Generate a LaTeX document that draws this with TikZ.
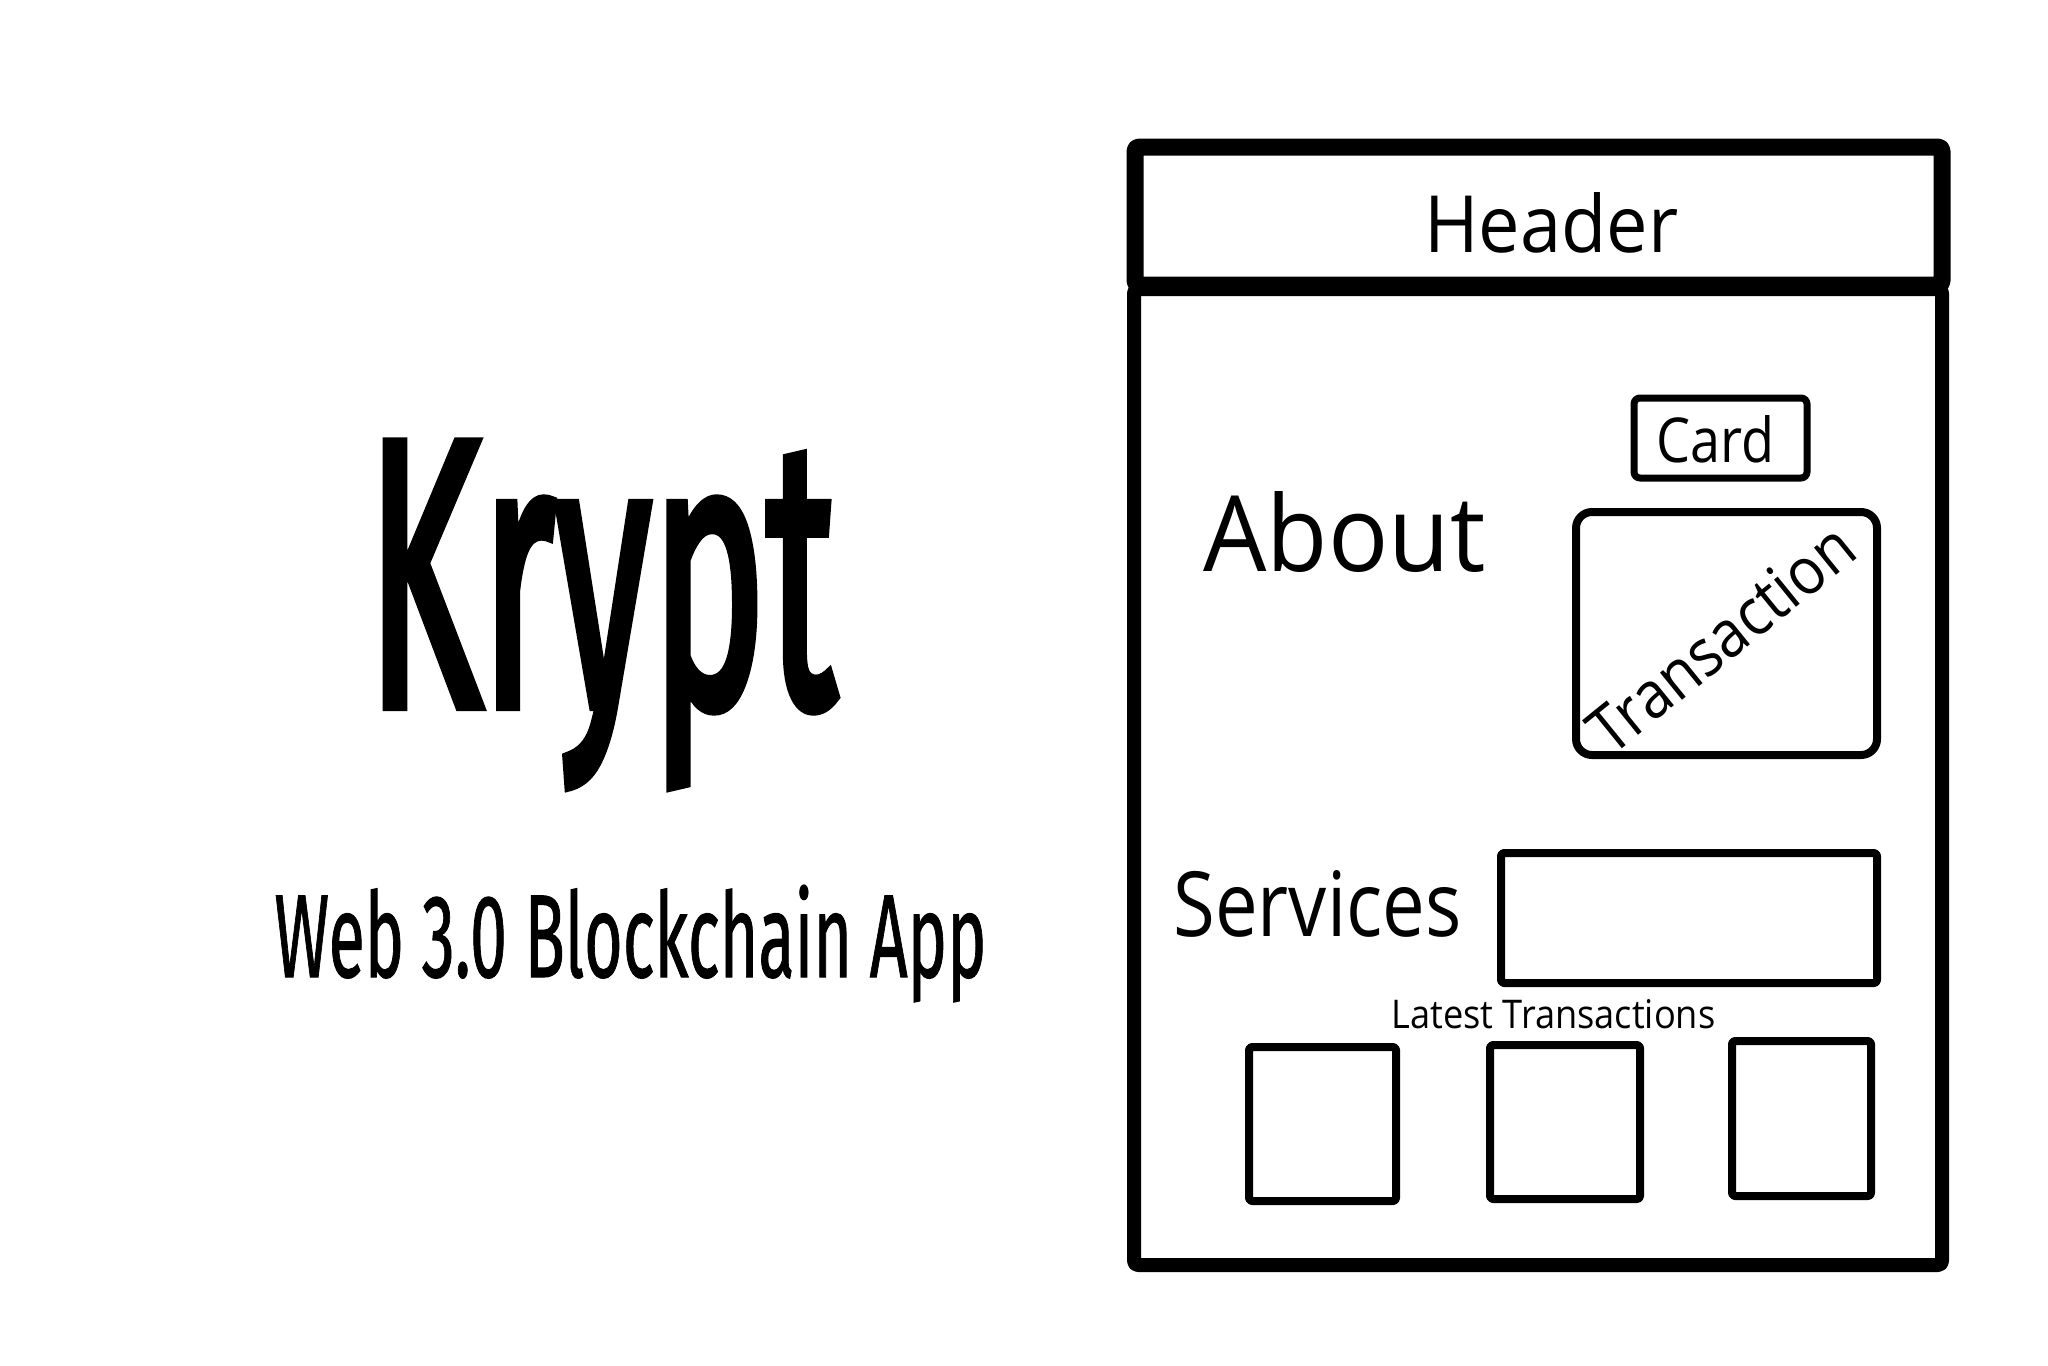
\documentclass[tikz,border=0pt]{standalone}
\usepackage{fontspec}
\usepackage{graphicx}
\newfontfamily\uifont{Open Sans}
\newfontfamily\handfont{Fira Sans}[FakeBold=3.2]
\newfontfamily\handfontlight{Fira Sans}[FakeBold=1.0]
\newcommand{\fitlabel}[3]{\resizebox{#1}{#2}{#3}}
\tikzset{
  frame/.style={draw=black, line width=#1, line join=round, rounded corners=2pt},
  uibox/.style={draw=black, line width=4pt, line join=round, rounded corners=1.5pt},
  lbl/.style={inner sep=0pt, anchor=base west},
}
\begin{document}
\begin{tikzpicture}[x=0.5pt,y=-0.5pt]
\useasboundingbox[fill=white] (0,0) rectangle (2048,1365);
% title
\node[lbl] (krypt) at (366,705) {\fitlabel{235pt}{130.5pt}{\handfont Krypt}};
\node[lbl] (subtitle) at (274,977) {\fitlabel{356pt}{46pt}{\handfontlight Web 3.0 Blockchain App}};
% page frame
\draw[frame=7pt] (1134,289) rectangle (1942,1265);
\draw[frame=8.5pt] (1135,147) rectangle (1942,285);
\node[lbl] (header) at (1424,252) {\fitlabel{127pt}{30pt}{\uifont Header}};
% about
\node[lbl] (about) at (1203,571) {\fitlabel{141pt}{40pt}{\uifont About}};
\draw[uibox, line width=3.5pt, rounded corners=3pt] (1634,398) rectangle (1807,478);
\node[lbl] (card) at (1656,462) {\fitlabel{59pt}{23.5pt}{\uifont Card}};
\draw[uibox, rounded corners=8pt] (1576,512) rectangle (1877,755);
\node[inner sep=0pt, rotate=39] (transaction) at (1721,638) {\fitlabel{160pt}{24pt}{\uifont Transaction}};
% services
\node[lbl] (services) at (1173,936) {\fitlabel{144pt}{33pt}{\uifont Services}};
\draw[uibox] (1501,853) rectangle (1877,983);
\node[lbl] (latest) at (1391,1028) {\fitlabel{162pt}{14.5pt}{\uifont Latest Transactions}};
\draw[uibox] (1249,1047) rectangle (1396,1201);
\draw[uibox] (1490,1045) rectangle (1640,1199);
\draw[uibox] (1732,1041) rectangle (1871,1196);
\end{tikzpicture}
\end{document}
